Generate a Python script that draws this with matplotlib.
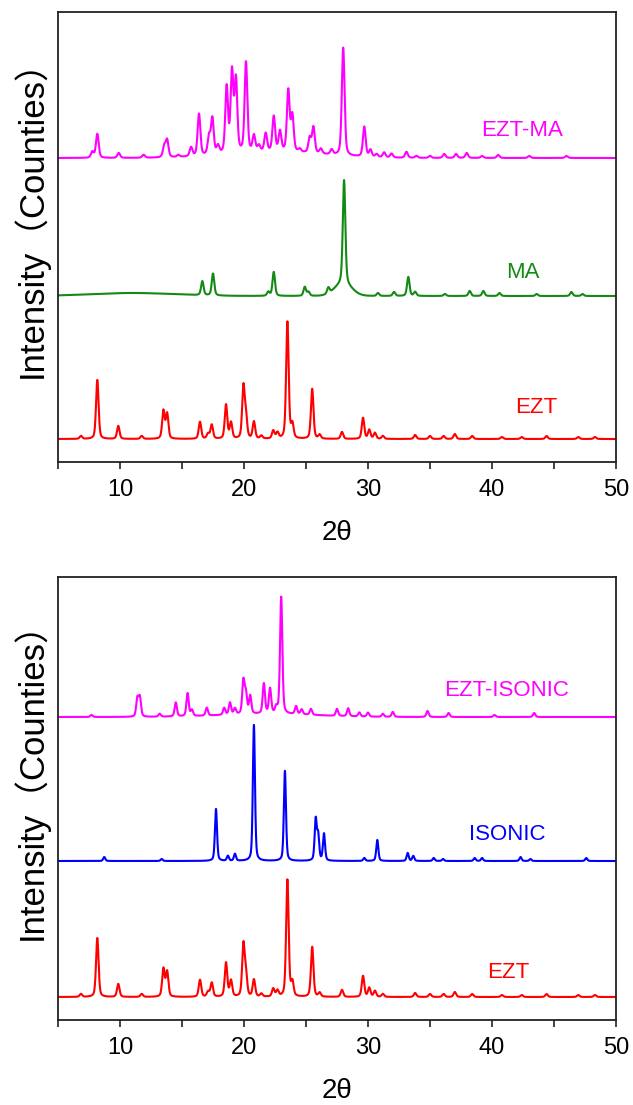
import numpy as np
import matplotlib
matplotlib.use("Agg")
import matplotlib.pyplot as plt

plt.rcParams['font.family'] = ['Liberation Sans', 'Noto Sans CJK SC', 'DejaVu Sans']

# peak positions (2theta) and heights, baseline offsets per trace
ezt_pos = [6.85, 8.17, 9.86, 11.75, 13.5, 13.8, 16.45, 17.1, 17.4, 18.55, 18.95, 19.95, 20.15,
           20.8, 21.4, 22.36, 22.7, 23.5, 23.9, 25.5, 26.1, 27.9, 29.6, 30.1, 30.56, 31.2,
           33.8, 35.0, 36.1, 37.0, 38.4, 40.8, 42.4, 44.4, 46.96, 48.3]
ezt_hgt = [3, 59, 13, 3, 28, 25, 17, 5, 14, 34, 16, 51, 22,
           17, 3, 8, 6, 117, 14, 50, 4, 7, 21, 9, 6, 3,
           4, 3, 3, 5, 3, 2, 2, 3, 2, 2]

ma_pos = [16.64, 17.5, 21.96, 22.4, 24.9, 25.2, 26.8, 28.07, 30.8, 32.1, 33.25, 33.8,
          36.2, 38.2, 39.3, 40.6, 43.6, 46.4, 47.3]
ma_hgt = [14, 22, 4, 24, 9, 4, 6, 104, 3, 4, 19, 4,
          2, 5, 5, 3, 2, 4, 2]
ma_broad_pos = [28.0, 11.0]
ma_broad_hgt = [12, 3]
ma_broad_w = [1.6, 8.0]

eztma_pos = [7.77, 8.17, 9.9, 11.9, 13.57, 13.8, 14.7, 15.73, 16.37, 17.18, 17.45, 17.9,
             18.6, 19.03, 19.35, 20.16, 20.8, 21.2, 21.75, 22.4, 22.9, 23.57, 23.9, 24.5,
             25.3, 25.6, 26.2, 27.07, 28.0, 29.7, 30.2, 30.7, 31.3, 31.9, 33.1, 33.9, 35.0,
             36.15, 37.1, 37.96, 39.2, 40.5, 43.0, 46.0]
eztma_hgt = [6, 24, 5, 3, 11, 17, 2, 9, 42, 18, 36, 8,
             66, 80, 72, 90, 16, 6, 18, 35, 20, 61, 36, 3,
             15, 26, 5, 5, 108, 30, 7, 3, 5, 4, 6, 2, 2,
             4, 4, 5, 2, 3, 2, 2]
eztma_broad_pos = [22.5]
eztma_broad_hgt = [6]
eztma_broad_w = [9.0]

isonic_pos = [8.73, 13.36, 17.74, 18.7, 19.27, 20.8, 23.3, 25.78, 25.98, 26.45, 29.7, 30.75,
              33.2, 33.65, 35.3, 36.05, 38.6, 39.2, 42.3, 43.1, 47.6]
isonic_hgt = [4, 2, 52, 5, 7, 136, 90, 41, 25, 27, 3, 21,
              8, 5, 3, 2, 3, 3, 4, 2, 3]

ezti_pos = [7.7, 11.4, 11.6, 13.2, 14.5, 15.45, 15.8, 17.0, 18.4, 18.87, 19.27, 19.95,
            20.15, 20.5, 21.6, 22.1, 22.6, 23.0, 24.2, 24.65, 25.4, 27.5, 28.4, 29.3, 30.0,
            31.2, 32.0, 34.8, 36.5, 40.2, 43.4]
ezti_hgt = [2, 18, 19, 3, 14, 23, 6, 8, 7, 12, 6, 33,
            20, 18, 30, 25, 6, 117, 8, 5, 6, 7, 8, 4, 4,
            3, 5, 6, 4, 2, 4]
ezti_broad_pos = [22.0]
ezti_broad_hgt = [3]
ezti_broad_w = [9.0]

top_offsets = {"EZT": 23, "MA": 166, "EZT-MA": 304}
bot_offsets = {"EZT": 23, "ISONIC": 159, "EZT-ISONIC": 303}

tick_vals = [10, 20, 30, 40, 50]

x = np.linspace(5, 50, 4501)


def profile(pos, hgt, fwhm):
    y = np.zeros_like(x)
    for p, h in zip(pos, hgt):
        d = (x - p) / (fwhm / 2)
        y += h * (0.6 * np.exp(-np.log(2) * d ** 2) + 0.4 / (1 + d ** 2))
    return y


def broad(pos, hgt, w):
    y = np.zeros_like(x)
    for p, h, ww in zip(pos, hgt, w):
        y += h * np.exp(-np.log(2) * ((x - p) / (ww / 2)) ** 2)
    return y


ezt = profile(ezt_pos, ezt_hgt, 0.24)
ma = profile(ma_pos, ma_hgt, 0.24) + broad(ma_broad_pos, ma_broad_hgt, ma_broad_w)
eztma = profile(eztma_pos, eztma_hgt, 0.26) + broad(eztma_broad_pos, eztma_broad_hgt, eztma_broad_w)
isonic = profile(isonic_pos, isonic_hgt, 0.2)
ezti = profile(ezti_pos, ezti_hgt, 0.22) + broad(ezti_broad_pos, ezti_broad_hgt, ezti_broad_w)

W, H = 633, 1105
fig = plt.figure(figsize=(W / 100, H / 100), dpi=100)
ax1 = fig.add_axes([58 / W, 1 - 462 / H, 558 / W, 450 / H])
ax2 = fig.add_axes([58 / W, 1 - 1020 / H, 558 / W, 443 / H])

MAG = '#ff00ff'
GRN = '#138a13'
RED = '#ff0000'
BLU = '#0000ff'
lw = 1.5

ax1.plot(x, ezt + top_offsets["EZT"], color=RED, lw=lw)
ax1.plot(x, ma + top_offsets["MA"], color=GRN, lw=lw)
ax1.plot(x, eztma + top_offsets["EZT-MA"], color=MAG, lw=lw)
ax1.text(43.6, 55, "EZT", color=RED, fontsize=16, ha='center', va='center')
ax1.text(42.5, 190, "MA", color=GRN, fontsize=16, ha='center', va='center')
ax1.text(42.4, 331, "EZT-MA", color=MAG, fontsize=16, ha='center', va='center')
ax1.set_ylim(0, 450)

ax2.plot(x, ezt + bot_offsets["EZT"], color=RED, lw=lw)
ax2.plot(x, isonic + bot_offsets["ISONIC"], color=BLU, lw=lw)
ax2.plot(x, ezti + bot_offsets["EZT-ISONIC"], color=MAG, lw=lw)
ax2.text(41.3, 48, "EZT", color=RED, fontsize=16, ha='center', va='center')
ax2.text(41.2, 185, "ISONIC", color=BLU, fontsize=16, ha='center', va='center')
ax2.text(41.2, 330, "EZT-ISONIC", color=MAG, fontsize=16, ha='center', va='center')
ax2.set_ylim(0, 443)

for ax in (ax1, ax2):
    ax.set_xlim(5, 50)
    ax.set_xticks(tick_vals)
    ax.set_xticks([5, 15, 25, 35, 45], minor=True)
    ax.tick_params(axis='x', which='both', direction='out', length=5, width=1.2,
                   labelsize=17, pad=7, color='#222222')
    ax.set_yticks([])
    for s in ax.spines.values():
        s.set_linewidth(1.3)
        s.set_color('#222222')
    ax.set_xlabel("2θ", fontsize=20, labelpad=14)
    ax.set_ylabel("Intensity（Counties）", fontsize=25)
    ax.yaxis.set_label_coords(-0.017, 0.56)

fig.savefig("out.png", dpi=100)
